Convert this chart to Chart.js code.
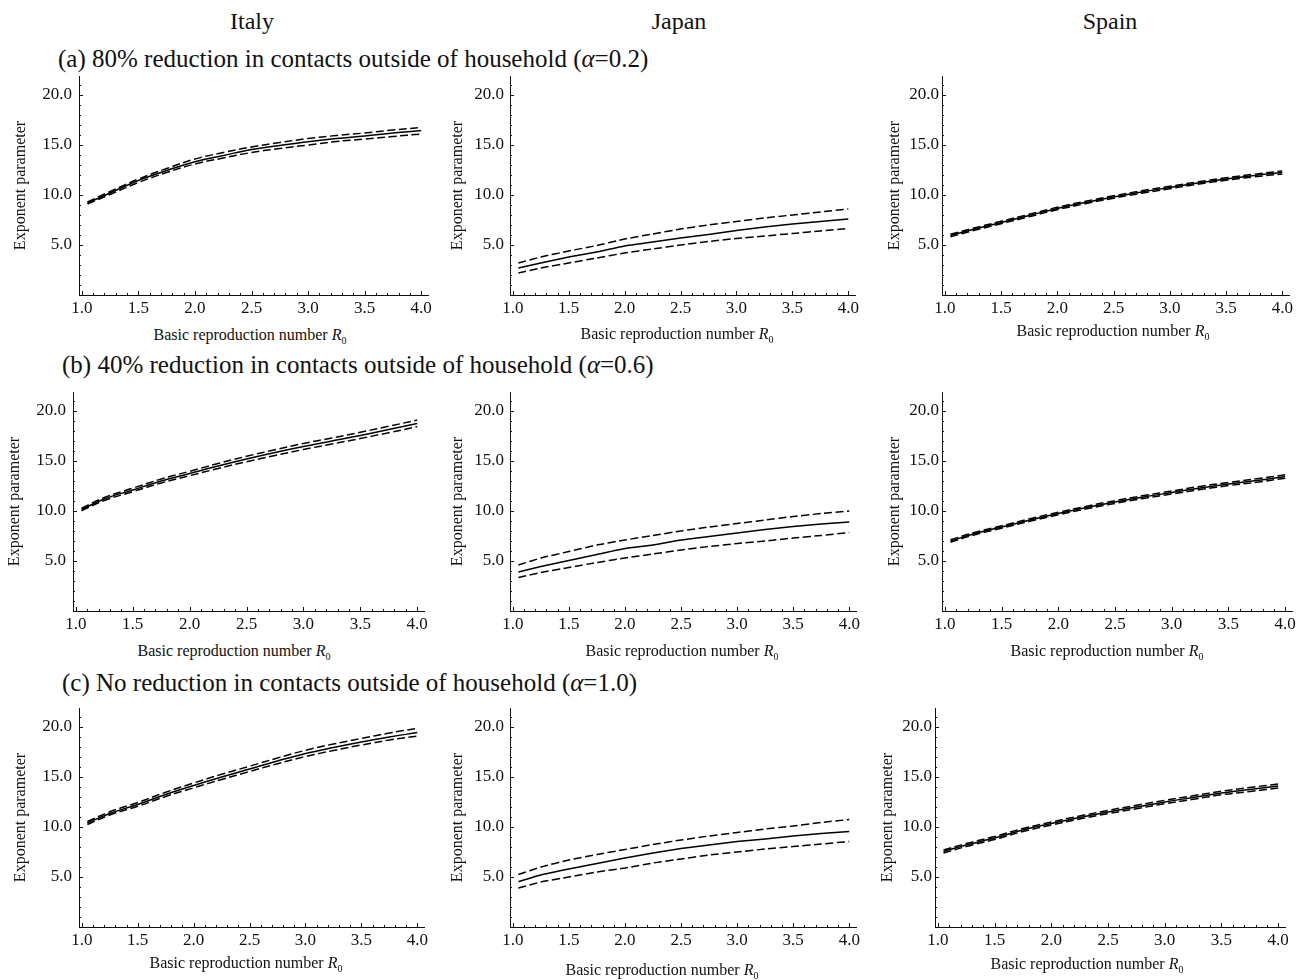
<!DOCTYPE html>
<html>
<head>
<meta charset="utf-8">
<script src="https://cdn.jsdelivr.net/npm/chart.js@4.4.0/dist/chart.umd.min.js"></script>
<style>
  body { margin: 0; background: #fff; }
  #fig { position: relative; width: 1309px; height: 980px; overflow: hidden;
         font-family: 'Liberation Serif', 'Times New Roman', serif; color: #111; }
  .txt { position: absolute; white-space: nowrap; line-height: 1; }
  .c { transform: translate(-50%, -50%); }
  .l { transform: translate(0, -50%); }
  .head { font-size: 24px; }
  .cap { font-size: 25px; }
  .xt { font-size: 16px; }
  .xt sub { font-size: 10px; line-height: 0; vertical-align: -4px; }
  canvas { position: absolute; }
</style>
</head>
<body>
<div id="fig"></div>
<script>
// R0 grid shared by every panel
const r0 = [1.05, 1.25, 1.5, 1.75, 2.0, 2.25, 2.5, 2.75, 3.0, 3.25, 3.5, 3.75, 4.0];

// Italy
const italyA_mid = [9.2, 10.2, 11.45, 12.45, 13.33, 13.95, 14.55, 14.95, 15.33, 15.65, 15.9, 16.2, 16.45];
const italyA_hi  = [9.3, 10.35, 11.6, 12.65, 13.6, 14.25, 14.8, 15.25, 15.65, 15.95, 16.2, 16.5, 16.75];
const italyA_lo  = [9.1, 10.05, 11.25, 12.25, 13.1, 13.7, 14.25, 14.65, 15.0, 15.35, 15.6, 15.85, 16.1];
const italyB_mid = [10.15, 11.2, 12.1, 13.0, 13.75, 14.5, 15.2, 15.85, 16.45, 17.0, 17.55, 18.15, 18.75];
const italyB_hi  = [10.27, 11.35, 12.28, 13.2, 13.97, 14.75, 15.47, 16.12, 16.75, 17.3, 17.87, 18.47, 19.1];
const italyB_lo  = [10.03, 11.05, 11.93, 12.8, 13.53, 14.25, 14.93, 15.55, 16.15, 16.7, 17.25, 17.83, 18.43];
const italyC_mid = [10.4, 11.35, 12.25, 13.25, 14.15, 15.0, 15.8, 16.6, 17.35, 17.95, 18.5, 19.0, 19.45];
const italyC_hi  = [10.55, 11.52, 12.45, 13.47, 14.4, 15.27, 16.08, 16.9, 17.67, 18.3, 18.85, 19.4, 19.87];
const italyC_lo  = [10.25, 11.2, 12.07, 13.05, 13.92, 14.75, 15.55, 16.33, 17.05, 17.65, 18.2, 18.7, 19.1];

// Japan
const japanA_mid = [2.7, 3.2, 3.8, 4.3, 4.9, 5.3, 5.7, 6.05, 6.45, 6.8, 7.1, 7.35, 7.6];
const japanA_hi  = [3.2, 3.8, 4.4, 4.95, 5.6, 6.1, 6.6, 7.0, 7.35, 7.7, 8.0, 8.3, 8.6];
const japanA_lo  = [2.2, 2.7, 3.2, 3.7, 4.2, 4.6, 5.0, 5.35, 5.65, 5.9, 6.15, 6.4, 6.65];
const japanB_mid = [3.9, 4.45, 5.05, 5.65, 6.25, 6.6, 7.1, 7.45, 7.8, 8.15, 8.45, 8.7, 8.9];
const japanB_hi  = [4.6, 5.3, 5.95, 6.6, 7.1, 7.55, 8.0, 8.4, 8.75, 9.1, 9.45, 9.75, 10.0];
const japanB_lo  = [3.35, 3.85, 4.35, 4.85, 5.3, 5.7, 6.1, 6.45, 6.75, 7.0, 7.3, 7.55, 7.85];
const japanC_mid = [4.55, 5.2, 5.8, 6.35, 6.9, 7.4, 7.85, 8.2, 8.55, 8.8, 9.1, 9.35, 9.55];
const japanC_hi  = [5.25, 6.0, 6.7, 7.25, 7.75, 8.25, 8.7, 9.1, 9.45, 9.8, 10.1, 10.45, 10.75];
const japanC_lo  = [3.9, 4.5, 5.0, 5.5, 5.9, 6.4, 6.8, 7.2, 7.5, 7.8, 8.05, 8.3, 8.55];

// Spain
const spainA_mid = [5.95, 6.55, 7.25, 7.95, 8.65, 9.25, 9.8, 10.3, 10.75, 11.2, 11.6, 11.95, 12.25];
const spainA_hi  = [6.07, 6.67, 7.37, 8.07, 8.77, 9.37, 9.92, 10.42, 10.87, 11.32, 11.72, 12.08, 12.4];
const spainA_lo  = [5.83, 6.43, 7.13, 7.83, 8.53, 9.13, 9.68, 10.18, 10.63, 11.08, 11.48, 11.82, 12.1];
const spainB_mid = [7.0, 7.7, 8.4, 9.1, 9.75, 10.35, 10.9, 11.4, 11.85, 12.3, 12.7, 13.05, 13.45];
const spainB_hi  = [7.12, 7.82, 8.52, 9.23, 9.88, 10.48, 11.04, 11.54, 12.0, 12.46, 12.86, 13.22, 13.62];
const spainB_lo  = [6.88, 7.58, 8.28, 8.97, 9.62, 10.22, 10.76, 11.26, 11.7, 12.14, 12.54, 12.88, 13.28];
const spainC_mid = [7.55, 8.2, 8.9, 9.7, 10.35, 10.95, 11.5, 12.0, 12.5, 12.95, 13.4, 13.75, 14.1];
const spainC_hi  = [7.7, 8.35, 9.05, 9.85, 10.5, 11.1, 11.66, 12.17, 12.67, 13.13, 13.58, 13.95, 14.3];
const spainC_lo  = [7.4, 8.05, 8.75, 9.55, 10.2, 10.8, 11.34, 11.83, 12.33, 12.77, 13.22, 13.55, 13.9];

const countries = ['Italy', 'Japan', 'Spain'];
const rowCaptions = [
  '(a) 80% reduction in contacts outside of household (<i>α</i>=0.2)',
  '(b) 40% reduction in contacts outside of household (<i>α</i>=0.6)',
  '(c) No reduction in contacts outside of household (<i>α</i>=1.0)'
];
const yTickLabels = [5, 10, 15, 20];
const xTickLabels = [1.0, 1.5, 2.0, 2.5, 3.0, 3.5, 4.0];

// panels in reading order: row a, b, c; columns Italy, Japan, Spain
const series = [
  [italyA_mid, italyA_hi, italyA_lo], [japanA_mid, japanA_hi, japanA_lo], [spainA_mid, spainA_hi, spainA_lo],
  [italyB_mid, italyB_hi, italyB_lo], [japanB_mid, japanB_hi, japanB_lo], [spainB_mid, spainB_hi, spainB_lo],
  [italyC_mid, italyC_hi, italyC_lo], [japanC_mid, japanC_hi, japanC_lo], [spainC_mid, spainC_hi, spainC_lo]
];

// ---- layout (pixels) ----
const X_MIN = 0.975, X_MAX = 4.06, Y_MAX = 21.9;
// pixel of R0=1.0 and R0=4.0 for each panel
const xPix = [
  [82, 421], [512.7, 848.3], [945, 1282.3],
  [76, 417.3], [512.7, 849.3], [945, 1285],
  [82, 417.7], [512.7, 849.3], [938.3, 1278.3]
];
const rowZero = [295, 611, 926.5];   // pixel of y = 0 for each row
const yTitleGap = [58, 52, 47];      // distance of y title centre from the axis
const tickGap = [7, 6, 3];
const xTitlePos = [
  [250, 335], [677, 334], [1113, 331],
  [234, 651], [682, 651], [1107, 651],
  [246, 963], [662, 970], [1087, 964]
];
const headPos = [[252, 21], [679, 21], [1110, 21]];
const capPos = [[58, 58], [62, 364], [62, 682]];

const FONT = "'Liberation Serif', 'Times New Roman', serif";
const INK = '#111';
const Y_BOX = 80, X_BOX = 30, PAD_T = 12, PAD_R = 14;

const fig = document.getElementById('fig');

function addText(html, cls, x, y) {
  const d = document.createElement('div');
  d.className = 'txt ' + cls;
  d.innerHTML = html;
  d.style.left = x + 'px';
  d.style.top = y + 'px';
  fig.appendChild(d);
}

countries.forEach((c, i) => addText(c, 'head c', headPos[i][0], headPos[i][1]));
rowCaptions.forEach((c, i) => addText(c, 'cap l', capPos[i][0], capPos[i][1]));

const near = (v, step) => Math.abs(v / step - Math.round(v / step)) < 1e-6;

// Mathematica-style ticks pointing into the plot
const inwardTicks = {
  id: 'inwardTicks',
  afterDraw(chart) {
    const { ctx, chartArea: a, scales: { x, y } } = chart;
    ctx.save();
    ctx.strokeStyle = INK;
    ctx.lineWidth = 1;
    ctx.beginPath();
    x.ticks.forEach(t => {
      if (!near(t.value, 0.1) || t.value < X_MIN || t.value > X_MAX) return;
      const len = near(t.value, 0.5) ? 4 : 2;
      const px = Math.round(x.getPixelForValue(t.value)) + 0.5;
      ctx.moveTo(px, a.bottom);
      ctx.lineTo(px, a.bottom - len);
    });
    y.ticks.forEach(t => {
      if (!near(t.value, 1) || t.value <= 0) return;
      const len = near(t.value, 5) ? 4 : 2;
      const py = Math.round(y.getPixelForValue(t.value)) + 0.5;
      ctx.moveTo(a.left, py);
      ctx.lineTo(a.left + len, py);
    });
    ctx.stroke();
    ctx.restore();
  }
};

series.forEach((s, i) => {
  const row = Math.floor(i / 3), col = i % 3;
  const [p1, p4] = xPix[i];
  const ppu = (p4 - p1) / 3;
  const left = p1 - (1 - X_MIN) * ppu;
  const right = p1 + (X_MAX - 1) * ppu;
  const bottom = rowZero[row];
  const top = bottom - Y_MAX * 10;

  const cv = document.createElement('canvas');
  const w = Math.round(right - left + Y_BOX + PAD_R);
  const h = Math.round(bottom - top + PAD_T + X_BOX);
  cv.width = w; cv.height = h;
  cv.style.left = (left - Y_BOX) + 'px';
  cv.style.top = (top - PAD_T) + 'px';
  fig.appendChild(cv);

  const smooth = col === 1 ? 0.15 : 0.4;
  const mk = (vals, dash) => ({
    data: r0.map((r, k) => ({ x: r, y: vals[k] })),
    borderColor: '#000',
    borderWidth: 1.5,
    borderDash: dash,
    pointRadius: 0,
    tension: smooth,
    fill: false
  });

  new Chart(cv, {
    type: 'line',
    data: { datasets: [mk(s[0], []), mk(s[1], [8, 3.5]), mk(s[2], [8, 3.5])] },
    options: {
      responsive: false,
      animation: false,
      devicePixelRatio: 1,
      layout: { padding: { top: PAD_T, right: PAD_R, left: 0, bottom: 0 } },
      plugins: { legend: { display: false }, tooltip: { enabled: false } },
      scales: {
        x: {
          type: 'linear', min: X_MIN, max: X_MAX,
          grid: { display: false, drawTicks: false },
          border: { display: true, color: INK, width: 1 },
          ticks: {
            stepSize: 0.1, includeBounds: false, autoSkip: false, maxRotation: 0, padding: 3,
            color: INK, font: { family: FONT, size: 17 },
            callback: v => xTickLabels.some(t => Math.abs(t - v) < 1e-6) ? v.toFixed(1) : ''
          },
          afterFit(sc) { sc.height = X_BOX; sc.paddingLeft = sc.paddingRight = 0; }
        },
        y: {
          type: 'linear', min: 0, max: Y_MAX,
          grid: { display: false, drawTicks: false },
          border: { display: true, color: INK, width: 1 },
          ticks: {
            stepSize: 1, includeBounds: false, autoSkip: false, padding: tickGap[col],
            color: INK, font: { family: FONT, size: 17 },
            callback: v => yTickLabels.some(t => Math.abs(t - v) < 1e-6) ? v.toFixed(1) : ''
          },
          title: {
            display: true, text: 'Exponent parameter', color: INK,
            font: { family: FONT, size: 16 },
            padding: { top: Y_BOX - yTitleGap[col] - 9.6, bottom: 0 }
          },
          afterFit(sc) { sc.width = Y_BOX; sc.paddingTop = sc.paddingBottom = 0; }
        }
      }
    },
    plugins: [inwardTicks]
  });

  addText('Basic reproduction number <i>R</i><sub>0</sub>', 'xt c', xTitlePos[i][0], xTitlePos[i][1]);
});
</script>
</body>
</html>
